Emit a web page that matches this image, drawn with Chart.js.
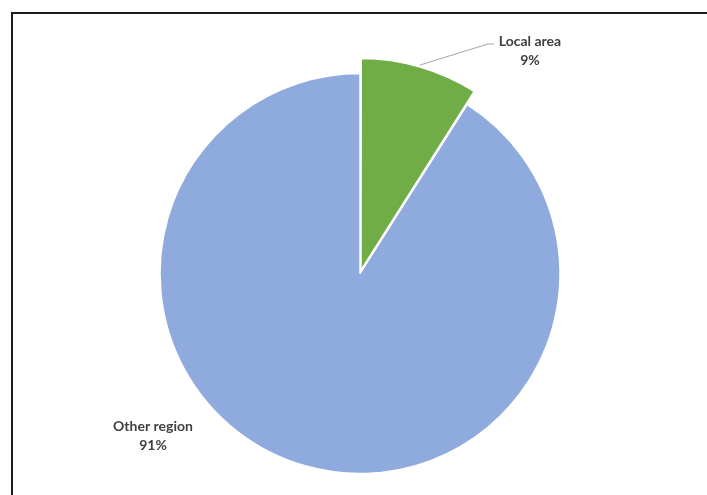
<!DOCTYPE html>
<html>
<head>
<meta charset="utf-8">
<script src="https://cdn.jsdelivr.net/npm/chart.js@4/dist/chart.umd.min.js"></script>
<style>
  html, body { margin: 0; padding: 0; background: #ffffff; }
  #wrap { position: relative; width: 707px; height: 495px; overflow: hidden; }
  #frame {
    position: absolute; left: 11px; top: 12px; width: 760px; height: 560px;
    border: 2px solid #1c1c1c; box-sizing: border-box;
  }
  #c { position: absolute; left: 0; top: 0; }
</style>
</head>
<body>
<div id="wrap">
  <div id="frame"></div>
  <canvas id="c" width="707" height="495"></canvas>
</div>
<script>
// Share of visitors by origin
const categories = ['Local area', 'Other region'];
const shares = [9, 91];
const sliceColors = ['#70AD47', '#8FAADC'];

// Label placement for each slice: text centre, plus an optional leader line
const labelLayout = [
  { x: 530, y: 41, line: [[420, 65], [488, 44], [494, 44]] },
  { x: 153, y: 426, line: null }
];

const total = shares.reduce((a, b) => a + b, 0);

// The exploded slice is drawn a little larger than the rest of the pie
const explodeGrow = 10;

const pieLabels = {
  id: 'pieLabels',
  afterDatasetsUpdate(chart) {
    const arc = chart.getDatasetMeta(0).data[0];
    if (arc) arc.outerRadius += explodeGrow;
  },
  afterDraw(chart) {
    const ctx = chart.ctx;
    ctx.save();
    categories.forEach((name, i) => {
      const pos = labelLayout[i];
      if (pos.line) {
        ctx.strokeStyle = '#A6A6A6';
        ctx.lineWidth = 1;
        ctx.beginPath();
        pos.line.forEach((p, k) => k ? ctx.lineTo(p[0], p[1]) : ctx.moveTo(p[0], p[1]));
        ctx.stroke();
      }
      const pct = Math.round(shares[i] / total * 100) + '%';
      ctx.fillStyle = '#404040';
      ctx.font = 'bold 14px Lato, "Open Sans", sans-serif';
      ctx.textAlign = 'center';
      ctx.textBaseline = 'middle';
      ctx.fillText(name, pos.x, pos.y);
      ctx.fillText(pct, pos.x, pos.y + 19);
    });
    ctx.restore();
  }
};

new Chart(document.getElementById('c'), {
  type: 'pie',
  data: {
    labels: categories,
    datasets: [{
      data: shares,
      backgroundColor: sliceColors,
      borderColor: '#ffffff',
      borderWidth: 1.5,
      offset: [14, 0],
      hoverOffset: 0
    }]
  },
  options: {
    responsive: false,
    animation: false,
    events: [],
    radius: 200,
    layout: { padding: { left: 13, right: 0, top: 52, bottom: 0 } },
    plugins: {
      legend: { display: false },
      tooltip: { enabled: false }
    }
  },
  plugins: [pieLabels]
});
</script>
</body>
</html>
